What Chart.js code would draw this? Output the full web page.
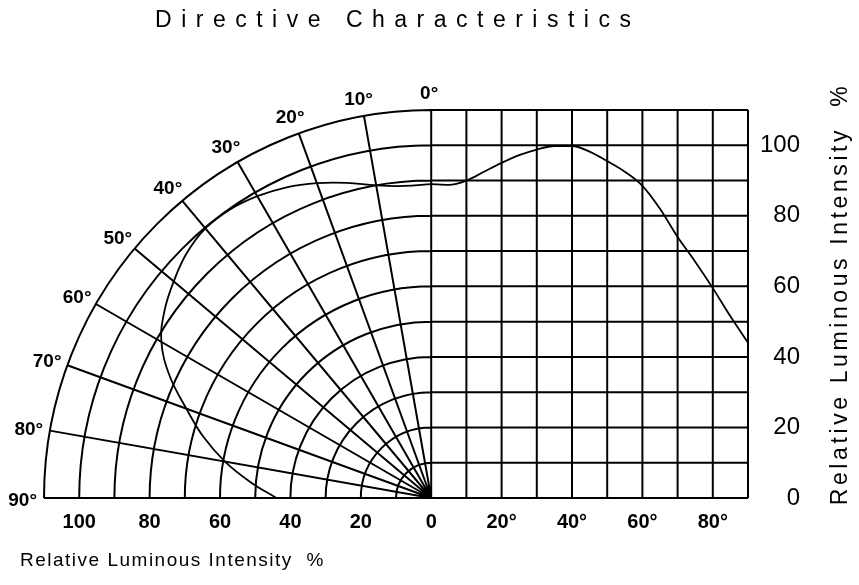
<!DOCTYPE html>
<html>
<head>
<meta charset="utf-8">
<script src="https://cdn.jsdelivr.net/npm/chart.js@4/dist/chart.umd.min.js"></script>
<style>
  html, body { margin: 0; padding: 0; background: #fff; }
</style>
</head>
<body>
<canvas id="directive" width="859" height="585"></canvas>
<script>
// emission angle (deg) and relative luminous intensity (%)
const angles = [0, 5, 10, 15, 20, 25, 30, 35, 40, 45, 50, 55, 60, 65, 70, 75, 80, 85, 90];
const intensity = [89, 88.8, 90, 92.5, 95, 97.2, 98.8, 99.8, 99.8, 98.2, 95.5, 92.5, 88.5, 82, 74, 67, 59.5, 51.5, 44];

// tick labels
const radiusTicks = [100, 80, 60, 40, 20, 0];
const angleTicks = [20, 40, 60, 80];
const intensityTicks = [0, 20, 40, 60, 80, 100];

// grid
const polarAngles = [0, 10, 20, 30, 40, 50, 60, 70, 80, 90];
const polarRings = [10, 20, 30, 40, 50, 60, 70, 80, 90, 100, 110];
const gridRows = [10, 20, 30, 40, 50, 60, 70, 80, 90, 100, 110];
const gridCols = [0, 10, 20, 30, 40, 50, 60, 70, 80, 90];

const rad = a => a * Math.PI / 180;
const polarPoints = angles.map((a, i) => ({ x: -intensity[i] * Math.sin(rad(a)), y: intensity[i] * Math.cos(rad(a)) }));
const rectPoints = angles.map((a, i) => ({ x: a, y: intensity[i] }));

const gridPlugin = {
  id: 'directiveGrid',
  beforeDatasetsDraw(chart) {
    const { ctx, scales: { x, y } } = chart;
    const px = v => x.getPixelForValue(v);
    const py = v => y.getPixelForValue(v);
    const cx = px(0), cy = py(0);
    ctx.save();
    ctx.strokeStyle = '#000';
    ctx.lineWidth = 2;
    ctx.beginPath();
    gridRows.forEach(r => { ctx.moveTo(px(0), py(r)); ctx.lineTo(px(90), py(r)); });
    gridCols.forEach(c => { ctx.moveTo(px(c), py(0)); ctx.lineTo(px(c), py(110)); });
    polarRings.forEach(r => {
      ctx.moveTo(px(-r), cy);
      ctx.ellipse(cx, cy, cx - px(-r), cy - py(r), 0, Math.PI, 1.5 * Math.PI);
    });
    polarAngles.forEach(a => {
      ctx.moveTo(cx, cy);
      ctx.lineTo(px(-110 * Math.sin(rad(a))), py(110 * Math.cos(rad(a))));
    });
    ctx.moveTo(px(-110), cy);
    ctx.lineTo(px(90), cy);
    ctx.stroke();
    ctx.restore();
  },
  afterDraw(chart) {
    const { ctx, scales: { x, y } } = chart;
    const px = v => x.getPixelForValue(v);
    const py = v => y.getPixelForValue(v);
    ctx.save();
    ctx.fillStyle = '#000';

    // angle labels round the polar half
    ctx.font = 'bold 19px "Liberation Sans", Arial, sans-serif';
    ctx.textAlign = 'center';
    ctx.textBaseline = 'middle';
    polarAngles.forEach(a => {
      ctx.fillText(a + '°', px(-115.5 * Math.sin(rad(a))) - 2, py(115.5 * Math.cos(rad(a))) + 3);
    });

    // title
    ctx.font = '23px "Liberation Sans", Arial, sans-serif';
    ctx.letterSpacing = '9.5px';
    ctx.textAlign = 'left';
    const title = 'Directive Characteristics';
    const tw = ctx.measureText(title).width - 9.5;
    ctx.fillText(title, 393 - tw / 2, 21);

    // bottom axis title
    ctx.font = '19px "Liberation Sans", Arial, sans-serif';
    ctx.letterSpacing = '1.5px';
    ctx.fillText('Relative Luminous Intensity  %', 20, 561);

    // right axis title
    ctx.font = '23px "Liberation Sans", Arial, sans-serif';
    ctx.letterSpacing = '3.6px';
    ctx.translate(841, 294);
    ctx.rotate(-Math.PI / 2);
    ctx.textAlign = 'center';
    ctx.fillText('Relative Luminous Intensity  %', 0, 0);
    ctx.restore();
  }
};

new Chart(document.getElementById('directive'), {
  type: 'scatter',
  data: {
    datasets: [
      {
        data: polarPoints,
        showLine: true,
        borderColor: '#000',
        borderWidth: 1.8,
        pointRadius: 0,
        tension: 0.4,
      },
      {
        data: rectPoints,
        showLine: true,
        borderColor: '#000',
        borderWidth: 1.8,
        pointRadius: 0,
        cubicInterpolationMode: 'monotone',
      },
    ],
  },
  options: {
    responsive: false,
    animation: false,
    devicePixelRatio: 1,
    layout: { padding: { left: 44, top: 110, right: 59, bottom: 0 } },
    plugins: { legend: { display: false }, tooltip: { enabled: false } },
    scales: {
      x: {
        type: 'linear',
        min: -110,
        max: 90,
        grid: { display: false, drawTicks: false, tickLength: 0 },
        border: { display: false },
        afterBuildTicks: s => { s.ticks = radiusTicks.map(v => ({ value: -v })).concat(angleTicks.map(v => ({ value: v }))); },
        afterFit: s => { s.height = 87; },
        ticks: {
          autoSkip: false,
          maxRotation: 0,
          padding: 12,
          color: '#000',
          font: { family: '"Liberation Sans", Arial, sans-serif', size: 20, weight: 'bold' },
          callback: v => (v <= 0 ? String(-v) : v + '°'),
        },
      },
      y: {
        type: 'linear',
        position: 'right',
        min: 0,
        max: 110,
        grid: { display: false, drawTicks: false, tickLength: 0 },
        border: { display: false },
        afterBuildTicks: s => { s.ticks = intensityTicks.map(v => ({ value: v })); },
        afterFit: s => { s.width = 52; },
        ticks: {
          autoSkip: false,
          padding: 12,
          crossAlign: 'far',
          color: '#000',
          font: { family: '"Liberation Sans", Arial, sans-serif', size: 24 },
        },
      },
    },
  },
  plugins: [gridPlugin],
});
</script>
</body>
</html>
